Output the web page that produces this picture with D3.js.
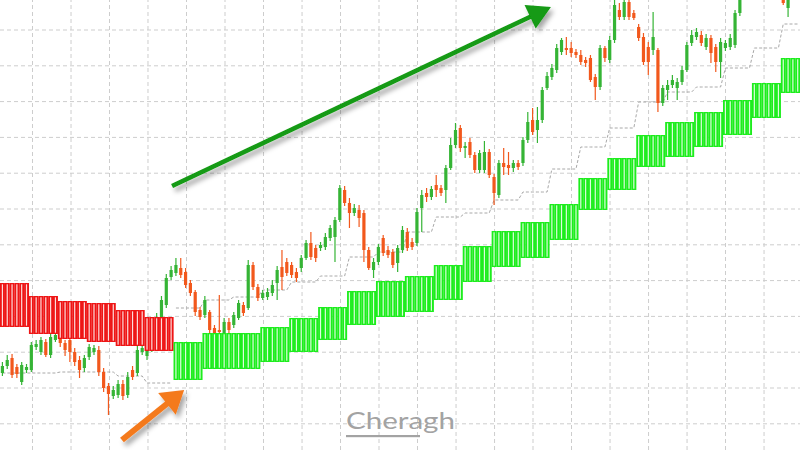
<!DOCTYPE html>
<meta charset="utf-8">
<head>
<title>Trend band chart</title>
<style>
body { margin: 0; background: #fff; }
.grid line { stroke: #cdcdcd; stroke-dasharray: 4,3; }
.grid path { display: none; }
.grid text { display: none; }
</style>
</head>
<body>
<div id="chart"></div>
<script src="https://d3js.org/d3.v7.min.js"></script>
<script>

// candles, price in chart points
var opens = [77,84,92,83,68,80,80,103,98,108, 95,110,114,107,110,98,90,82,93,98,
  100,78,64,54,55,66,55,80,77,98, 94,102,118,133,145,173,177,182,178,167,
  158,140,135,138,122,120,117,128,125,132, 145,142,185,163,152,153,157,167,183,188,
  185,178,182,192,207,202,202,203,212,213, 230,260,247,237,240,237,200,180,188,212,
  200,198,187,200,218,208,207,242,257,253, 265,262,260,282,305,322,302,308,295,280,
  280,298,273,255,287,285,282,287,287,310, 330,320,330,362,373,380,398,402,402,398,
  395,390,392,373,363,402,390,410,440,433, 448,437,423,413,403,400,400,347,360,365,
  362,368,380,407,413,415,403,412,403,388, 402,403,405,437,452,465,470,468,475,472,
  468,463,460,442,458,470];
var closes = [84,90,75,76,85,83,105,106,110,95, 113,115,107,100,98,88,80,92,103,102,
  78,62,56,60,66,54,73,73,100,102, 102,118,133,150,172,180,185,175,165,157,
  138,133,150,120,117,118,128,120,135,147, 137,185,163,152,157,158,165,180,173,177,
  175,172,192,207,193,192,205,213,222,230, 262,247,237,242,232,200,182,188,203,197,
  195,185,202,220,202,203,238,255,253,261, 260,257,282,305,320,302,304,295,280,297,
  298,275,257,287,283,282,287,283,310,328, 318,330,360,374,382,402,410,400,397,395,
  388,387,370,363,402,392,410,445,433,448, 433,432,412,388,388,413,347,362,365,370,
  368,380,405,415,418,407,412,397,388,408, 407,412,437,452,465,470,468,475,472,468,
  463,458,447,458,470,475];
var highs = [88,95,96,86,88,86,108,110,113,111, 116,118,117,110,113,102,94,95,106,105,
  104,82,67,64,70,70,78,84,104,106, 106,122,137,154,176,184,192,192,182,170,
  160,143,154,140,125,155,132,132,138,150, 148,190,188,166,160,162,170,184,200,192,
  188,182,195,210,218,205,208,217,225,233, 265,264,252,246,245,240,203,192,206,215,
  204,201,205,224,222,212,242,260,262,264, 275,265,285,312,327,325,308,312,298,300,
  309,301,276,290,302,298,290,290,313,338, 342,343,363,378,386,406,412,413,408,401,
  400,393,395,376,405,404,414,450,447,455, 458,440,426,417,408,438,402,365,370,375,
  372,384,408,420,422,419,416,415,406,412, 410,416,440,458,470,476,478,480,482,476,
  472,466,465,465,474,480];
var lows = [74,81,72,72,65,77,78,100,95,93, 92,108,103,94,88,84,72,78,90,95,
  74,58,35,51,52,50,52,70,74,95, 90,98,115,130,142,170,174,172,162,154,
  134,130,132,117,114,115,114,117,122,130, 134,140,160,149,150,150,154,150,160,174,
  172,168,178,190,190,188,199,200,209,188, 228,244,222,234,223,188,180,172,185,194,
  192,182,178,197,199,200,204,218,248,250, 253,254,247,280,302,298,292,292,277,277,
  277,272,245,252,275,275,278,280,284,307, 315,307,327,360,370,377,395,395,393,392,
  385,383,368,350,360,388,387,407,430,430, 430,430,409,385,375,395,338,344,350,362,
  350,365,378,404,410,404,400,387,378,372, 399,400,402,434,452,460,462,463,466,462,
  458,454,445,433,455,466];

// trend band, one level per block of 6 bars
var barsPerBlock = 6;
var bandUpper = [167,154,149,147,140,133, 108,117,117,123,132,143,159,169,174,185,
  204,219,228,246,272,292,315,328,338,350,367,392];
var bandLower = [123,116,111,108,104,99, 70,81,81,88,98,110,125,133,138,150,
  168,183,192,210,240,260,283,293,303,315,332,357];
var bandTrend = ["down","down","down","down","down","down",
  "up","up","up","up","up","up","up","up","up","up","up","up","up","up","up","up",
  "up","up","up","up","up","up"];
var stopLevel = [77,77,78,78,74,67, 142,150,153,160,168,174,193,198,218,233,
  237,250,258,281,303,322,348,358,363,382,402,426];

var gridPrices = [420.5,384.7,348.9,313.1,277.3,241.5,205.7,169.9,134.1,98.3,62.5,26.7];
var gridTimes = [6.64,14.63,22.62,30.60,38.59,46.58,54.57,62.56,70.54,78.53,
  86.52,94.51,102.50,110.48,118.47,126.46,134.45,142.44,150.42,158.41];

// annotation arrows in (bar, price)
var arrows = [
  {from: [35.7, 264], to: [114.3, 443], color: "#129a12", width: 4.5, head: 23, half: 13},
  {from: [25.3, 10], to: [38.2, 60], color: "#f47a1f", width: 6, head: 22, half: 14}
];

var width = 800, height = 450, step = 4.82;
var n = opens.length;
var colors = {up: "#35b435", down: "#f2581c", bandUp: "#1ded1d", bandDown: "#ee1515"};

var x = d3.scaleLinear().domain([0, n]).range([0, n * step]);
var y = d3.scaleLinear().domain([0, 450]).range([height, 0]);

var svg = d3.select("#chart").append("svg")
    .attr("width", width)
    .attr("height", height)
    .style("display", "block");

var filter = svg.append("defs").append("filter")
    .attr("id", "shadow")
    .attr("x", "-30%").attr("y", "-30%")
    .attr("width", "160%").attr("height", "160%");
filter.append("feDropShadow")
    .attr("dx", 3).attr("dy", 4)
    .attr("stdDeviation", 2.5)
    .attr("flood-color", "#000")
    .attr("flood-opacity", 0.35);

// grid
svg.append("g").attr("class", "grid")
    .call(d3.axisLeft(y).tickValues(gridPrices).tickSize(-width).tickFormat(""));
svg.append("g").attr("class", "grid")
    .attr("transform", "translate(0," + height + ")")
    .call(d3.axisBottom(x).tickValues(gridTimes).tickSize(-height).tickFormat(""));

// stop line, split by trend
var line = d3.line()
    .x(function(i) { return x(i + 0.5); })
    .y(function(i) { return y(stopLevel[Math.floor(i / barsPerBlock)]); });
["down", "up"].forEach(function(t) {
  var idx = d3.range(n).filter(function(i) { return bandTrend[Math.floor(i / barsPerBlock)] === t; });
  svg.append("path")
      .datum(idx)
      .attr("fill", "none")
      .attr("stroke", "#a8a8a8")
      .attr("stroke-width", 1)
      .attr("stroke-dasharray", "3,2")
      .attr("d", line);
});

// candles
var candles = svg.append("g").selectAll("g")
    .data(d3.range(n))
    .enter().append("g");

candles.append("line")
    .attr("x1", function(i) { return x(i + 0.5); })
    .attr("x2", function(i) { return x(i + 0.5); })
    .attr("y1", function(i) { return y(highs[i]); })
    .attr("y2", function(i) { return y(lows[i]); })
    .attr("stroke", function(i) { return closes[i] >= opens[i] ? colors.up : colors.down; })
    .attr("stroke-width", 1.2);

candles.append("rect")
    .attr("x", function(i) { return x(i + 0.5) - 1.6; })
    .attr("width", 3.2)
    .attr("y", function(i) { return y(Math.max(opens[i], closes[i])); })
    .attr("height", function(i) { return Math.max(1.2, Math.abs(y(opens[i]) - y(closes[i]))); })
    .attr("fill", function(i) { return closes[i] >= opens[i] ? colors.up : colors.down; });

// trend band
var band = svg.append("g").selectAll("g")
    .data(d3.range(n))
    .enter().append("g");

band.append("rect")
    .attr("x", function(i) { return x(i); })
    .attr("width", step + 0.1)
    .attr("y", function(i) { return y(bandUpper[Math.floor(i / barsPerBlock)]); })
    .attr("height", function(i) {
      var b = Math.floor(i / barsPerBlock);
      return y(bandLower[b]) - y(bandUpper[b]);
    })
    .attr("fill", function(i) {
      return bandTrend[Math.floor(i / barsPerBlock)] === "up" ? colors.bandUp : colors.bandDown;
    });

band.append("rect")
    .attr("x", function(i) { return x(i + 0.5) - 0.6; })
    .attr("width", 1.2)
    .attr("y", function(i) { return y(bandUpper[Math.floor(i / barsPerBlock)]) + 1.3; })
    .attr("height", function(i) {
      var b = Math.floor(i / barsPerBlock);
      return y(bandLower[b]) - y(bandUpper[b]) - 2.6;
    })
    .attr("fill", "#fff")
    .attr("fill-opacity", 0.85);

// arrows
arrows.forEach(function(a) {
  var x0 = x(a.from[0]), y0 = y(a.from[1]);
  var x1 = x(a.to[0]), y1 = y(a.to[1]);
  var dx = x1 - x0, dy = y1 - y0, len = Math.sqrt(dx * dx + dy * dy);
  var ux = dx / len, uy = dy / len;
  var bx = x1 - ux * a.head, by = y1 - uy * a.head;
  var g = svg.append("g").attr("filter", "url(#shadow)");
  g.append("line")
      .attr("x1", x0).attr("y1", y0)
      .attr("x2", bx + ux * 2).attr("y2", by + uy * 2)
      .attr("stroke", a.color)
      .attr("stroke-width", a.width);
  g.append("path")
      .attr("d", "M" + x1 + "," + y1 +
        "L" + (bx - uy * a.half) + "," + (by + ux * a.half) +
        "L" + (bx + uy * a.half) + "," + (by - ux * a.half) + "Z")
      .attr("fill", a.color);
});

// watermark
svg.append("text")
    .attr("x", 346)
    .attr("y", 429)
    .attr("textLength", 109)
    .attr("lengthAdjust", "spacingAndGlyphs")
    .style("font-family", "Lato, 'Open Sans', sans-serif")
    .style("font-size", "24px")
    .style("fill", "#a3a3a3")
    .text("Cheragh");
svg.append("rect")
    .attr("x", 346).attr("y", 435)
    .attr("width", 74).attr("height", 2.2)
    .attr("fill", "#a3a3a3");

</script>
</body>
